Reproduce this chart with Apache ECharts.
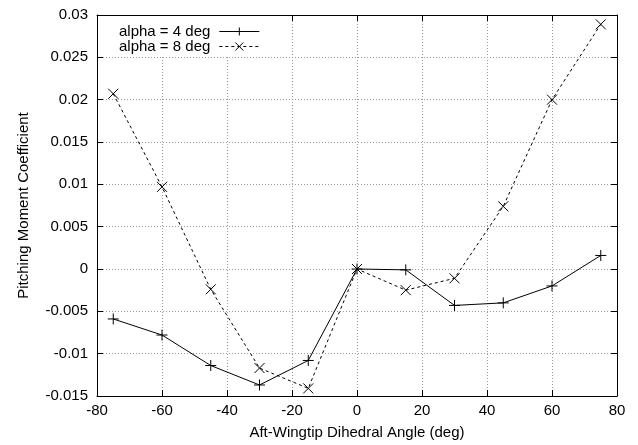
<!DOCTYPE html>
<html>
<head>
<meta charset="UTF-8">
<title>Pitching Moment Coefficient</title>
<script src="https://cdn.jsdelivr.net/npm/echarts@6/dist/echarts.min.js"></script>
<style>html,body{margin:0;padding:0;background:#fff;}</style>
</head>
<body>
<div id="main" style="width:638px;height:445px;"></div>
<script type="text/javascript">
    // dihedral angles (deg)
    var angles = [-75, -60, -45, -30, -15, 0, 15, 30, 45, 60, 75];
    var alpha4 = [-0.0059, -0.0078, -0.0114, -0.0137, -0.0108, 0.0, -0.0001, -0.0043, -0.0040, -0.0020, 0.0016];
    var alpha8 = [0.0207, 0.0097, -0.0024, -0.0117, -0.0141, 0.0, -0.0025, -0.0011, 0.0074, 0.0200, 0.0289];

    var plusSym = 'path://M0,-1L0,1M-1,0L1,0';
    var crossSym = 'path://M-1,-1L1,1M-1,1L1,-1';
    var font = 'Liberation Sans, Arial, Helvetica, sans-serif';

    function pairs(xs, ys) {
        var res = [];
        for (let i = 0; i < xs.length; i++) res.push([xs[i], ys[i]]);
        return res;
    }

    var myChart = echarts.init(document.getElementById('main'));

    var gridLine = {show: true, lineStyle: {color: '#9a9a9a', type: [1, 2], width: 1}};
    var tick = {show: true, inside: true, length: 6, lineStyle: {color: '#000'}};
    var axLine = {show: true, onZero: false, lineStyle: {color: '#000', width: 1}};

    var option = {
        backgroundColor: '#fff',
        animation: false,
        textStyle: {fontFamily: font},
        grid: {left: 97, right: 21, top: 15, bottom: 45, containLabel: false},
        legend: {
            left: 98, top: 16,
            orient: 'vertical',
            align: 'right',
            backgroundColor: '#fff',
            padding: [8, 6, 1, 21],
            itemWidth: 40, itemHeight: 10, itemGap: 0,
            lineStyle: {width: 1},
            itemStyle: {borderWidth: 1},
            textStyle: {fontFamily: font, fontSize: 15, lineHeight: 14, color: '#000', padding: [0, 4, 0, 0]},
            data: ['alpha = 4 deg', 'alpha = 8 deg']
        },
        xAxis: [{
            type: 'value', min: -80, max: 80, interval: 20,
            name: 'Aft-Wingtip Dihedral Angle (deg)', nameLocation: 'middle', nameGap: 29,
            nameTextStyle: {fontFamily: font, fontSize: 15, color: '#000'},
            axisLine: axLine, axisTick: tick, splitLine: gridLine,
            axisLabel: {color: '#000', fontFamily: font, fontSize: 15, margin: 7}
        }, {
            type: 'value', min: -80, max: 80, interval: 20, position: 'top',
            axisLine: axLine, axisTick: tick, splitLine: {show: false}, axisLabel: {show: false}
        }],
        yAxis: [{
            type: 'value', min: -0.015, max: 0.03, interval: 0.005,
            name: 'Pitching Moment Coefficient', nameLocation: 'middle', nameGap: 66,
            nameTextStyle: {fontFamily: font, fontSize: 15, color: '#000'},
            axisLine: axLine, axisTick: tick, splitLine: gridLine,
            axisLabel: {
                color: '#000', fontFamily: font, fontSize: 15, margin: 9,
                formatter: function (v) { return String(parseFloat(v.toFixed(4))); }
            }
        }, {
            type: 'value', min: -0.015, max: 0.03, interval: 0.005, position: 'right',
            axisLine: axLine, axisTick: tick, splitLine: {show: false}, axisLabel: {show: false}
        }],
        series: [
            {
                name: 'alpha = 4 deg',
                type: 'line',
                data: pairs(angles, alpha4),
                symbol: plusSym, symbolSize: 11,
                showAllSymbol: true,
                itemStyle: {color: '#000', borderColor: '#000', borderWidth: 1},
                lineStyle: {color: '#000', width: 1}
            },
            {
                name: 'alpha = 8 deg',
                type: 'line',
                data: pairs(angles, alpha8),
                symbol: crossSym, symbolSize: 10,
                showAllSymbol: true,
                itemStyle: {color: '#000', borderColor: '#000', borderWidth: 1},
                lineStyle: {color: '#000', width: 1, type: [3, 3]}
            }
        ]
    };

    myChart.setOption(option);
</script>
</body>
</html>
